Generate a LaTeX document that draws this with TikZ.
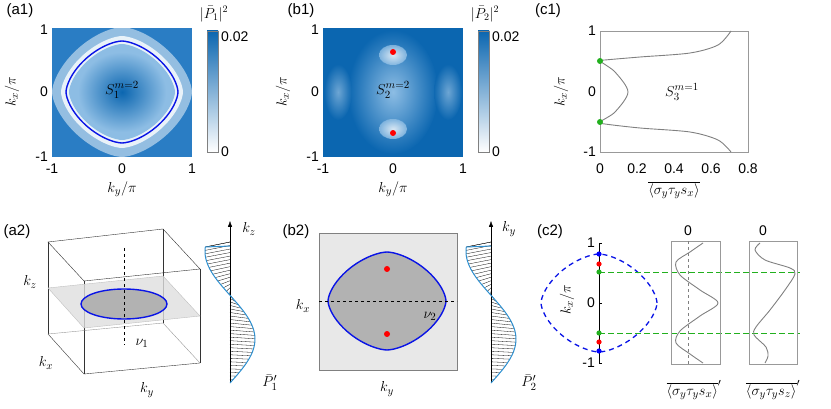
\documentclass[tikz,border=0pt]{standalone}
\usepackage{fontspec}
\usepackage{amsmath}
\newfontfamily\hfont{Liberation Sans}
\usetikzlibrary{arrows.meta}
\definecolor{mblue}{HTML}{2A7DC4}
\definecolor{lblue}{HTML}{8DBDE4}
\definecolor{dblue}{HTML}{0B66B0}
\definecolor{cblue}{RGB}{10,20,230}
\definecolor{pblue}{HTML}{2C8FD0}
\definecolor{mgreen}{HTML}{22B01E}
\tikzset{
  every node/.style={font=\fontsize{15}{15}\selectfont, inner sep=1pt},
  tick/.style={font=\hfont\fontsize{14}{14}\selectfont},
  plab/.style={font=\hfont\fontsize{15}{15}\selectfont},
  cblab/.style={font=\fontsize{14}{14}\selectfont, inner sep=0pt},
  frame/.style={draw=gray!80, line width=0.6pt},
  curve/.style={draw=gray, line width=0.9pt},
  fermi/.style={draw=cblue, line width=1.4pt},
  reddot/.style={fill=red},
  declare function={pf(\t)=25*sin(279.07*\t-99.07);},
}
\newcommand{\rdia}[5][]{% rounded diamond
  \draw[#1] plot[smooth cycle, domain=0:355, samples=72]
    ({#2 + #4*sign(cos(\x))*pow(abs(cos(\x)),1.25)},
     {#3 + #5*sign(sin(\x))*pow(abs(sin(\x)),1.25)});}
\newcommand{\cbar}[2]{%
  \shade[top color=dblue, bottom color=white] (#1,31) rectangle (#2,152);
  \draw[gray] (#1,31) rectangle (#2,152);}
\newcommand{\pprof}[1]{% hatched profile on axis x=#1
  \foreach \t in {0,0.025,...,1.001}
    \draw[line width=0.3pt] (#1,242+141*\t) -- ({#1+pf(\t)},{247+136*\t});
  \draw[line width=0.3pt] (#1,242) -- ({#1+pf(0)},247);
  \draw[pblue, line width=1pt] (#1,246) -- ({#1+pf(0)},247)
    plot[smooth, domain=0:1, samples=50] ({#1+pf(\x)},{247+136*\x});}
\begin{document}
\begin{tikzpicture}[x=1pt, y=-1pt]
  \useasboundingbox (0,0) rectangle (831,409);

  % (a1)
  \node[plab] (la1) at (20,11) {(a1)};
  \fill[mblue] (52,28) rectangle (192,157);
  \rdia[fill=white, draw=none, opacity=0.5]{122}{92}{70}{65}
  \rdia[fill=white, draw=none, opacity=0.8]{122}{92}{61}{56}
  \rdia[fill=lblue, draw=none]{122}{92}{53}{48}
  \shade[inner color=dblue, outer color=lblue, draw=none] (122,92) ellipse (44 and 40);
  \rdia[fermi]{122}{92}{56}{51}
  \node (s1) at (122,90) {$S_1^{m=2}$};
  \cbar{207}{218}
  \node[cblab] at (214,14) {$|\bar{P}_1|^2$};
  \node[tick, anchor=west] at (220,37) {0.02};
  \node[tick, anchor=west] at (220,152) {0};
  \foreach \v/\y in {1/30,0/92,-1/157} \node[tick, anchor=east] at (49,\y) {\v};
  \foreach \v/\x in {-1/52,0/122,1/192} \node[tick] at (\x,169) {\v};
  \node[rotate=90] at (12,92) {$k_x/\pi$};
  \node at (122,189) {$k_y/\pi$};

  % (b1)
  \node[plab] (lb1) at (301,11) {(b1)};
  \fill[dblue] (323,28) rectangle (463,157);
  \begin{scope}
    \clip (323,28) rectangle (463,157);
    \shade[inner color=lblue, outer color=dblue] (393,92) ellipse (45 and 62);
    \shade[inner color=lblue!70, outer color=dblue, opacity=0.6] (338,92) ellipse (14 and 28);
    \shade[inner color=lblue!70, outer color=dblue, opacity=0.6] (448,92) ellipse (14 and 28);
    \shade[inner color=white, outer color=lblue, opacity=0.8] (393,55) ellipse (14 and 10);
    \shade[inner color=white, outer color=lblue, opacity=0.8] (393,129) ellipse (14 and 10);
  \end{scope}
  \fill[reddot] (393,52) circle (3);
  \fill[reddot] (393,133) circle (3);
  \node (s2) at (393,90) {$S_2^{m=2}$};
  \cbar{478}{489}
  \node[cblab] at (485,14) {$|\bar{P}_2|^2$};
  \node[tick, anchor=west] at (491,37) {0.02};
  \node[tick, anchor=west] at (491,152) {0};
  \foreach \v/\y in {1/30,0/92,-1/157} \node[tick, anchor=east] at (320,\y) {\v};
  \foreach \v/\x in {-1/323,0/393,1/463} \node[tick] at (\x,169) {\v};
  \node[rotate=90] at (283,92) {$k_x/\pi$};
  \node at (393,189) {$k_y/\pi$};

  % (c1)
  \node[plab] (lc1) at (548,11) {(c1)};
  \draw[frame] (600,31) rectangle (748,152);
  \draw[curve] plot[smooth] coordinates {(731,31) (718,45) (690,53) (640,57) (605,60)
    (600,61) (615,72) (628,92) (615,112) (600,122) (605,124) (640,128) (690,132)
    (718,140) (731,152)};
  \fill[mgreen] (600,61) circle (3);
  \fill[mgreen] (600,122) circle (3);
  \node (s3) at (682,92) {$S_3^{m=1}$};
  \foreach \v/\y in {1/31,0/92,-1/152} \node[tick, anchor=east] at (597,\y) {\v};
  \foreach \v [count=\i from 0] in {0,0.2,0.4,0.6,0.8} \node[tick] at (600+\i*37,169) {\v};
  \node[rotate=90] at (561,92) {$k_x/\pi$};
  \node at (674,190) {$\overline{\langle\sigma_y\tau_y s_x\rangle}$};

  % (a2)
  \node[plab] (la2) at (17,232) {(a2)};
  \draw[black!80] (48,242) -- (163,229) -- (200,269) -- (84,281) -- cycle;
  \draw[black!80] (48,242) -- (48,334) (163,229) -- (163,323)
    (200,269) -- (200,363) (84,281) -- (84,374);
  \draw[black!80] (48,334) -- (84,374) -- (200,363);
  \draw[black!40] (48,334) -- (163,323) -- (200,363);
  \fill[gray!25, opacity=0.8] (48,288) -- (163,276) -- (200,316) -- (84,328) -- cycle;
  \draw[gray!50] (48,288) -- (163,276) -- (200,316) -- (84,328) -- cycle;
  \fill[gray!60] (124,304) ellipse (43 and 15);
  \draw[fermi] (124,304) ellipse (43 and 15);
  \draw[dashed, line width=1pt] (124,248) -- (124,345);
  \node (nu1) at (142,343) {$\nu_1$};
  \node (kz) at (30,282) {$k_z$};
  \node (kx) at (46,363) {$k_x$};
  \node (ky) at (147,390) {$k_y$};
  % P1'
  \draw[-{Latex[length=6pt]}] (230,383) -- (230,221);
  \node (kza) at (249,229) {$k_z$};
  \pprof{230}
  \node (p1) at (270,383) {$\bar{P}_1'$};

  % (b2)
  \node[plab] (lb2) at (296,232) {(b2)};
  \fill[gray!18] (319,233) rectangle (457,370);
  \draw[gray] (319,233) rectangle (457,370);
  \rdia[fill=gray!60, draw=none]{387}{301}{59}{49}
  \rdia[fermi]{387}{301}{59}{49}
  \draw[dashed, line width=1pt] (319,301) -- (457,301);
  \fill[reddot] (387,269) circle (3);
  \fill[reddot] (387,334) circle (3);
  \node (nu2) at (430,316) {$\nu_2$};
  \node (kxb) at (303,306) {$k_x$};
  \node (kyb) at (387,389) {$k_y$};
  % P2'
  \draw[-{Latex[length=6pt]}] (491,383) -- (491,221);
  \node (kya) at (509,229) {$k_y$};
  \pprof{491}
  \node (p2) at (529,383) {$\bar{P}_2'$};

  % (c2)
  \node[plab] (lc2) at (550,232) {(c2)};
  \draw[cblue, line width=1.3pt, dash pattern=on 5pt off 4pt]
    plot[smooth cycle, domain=0:355, samples=72]
    ({599+58*sign(cos(\x))*pow(abs(cos(\x)),1.25)},
     {303+49*sign(sin(\x))*pow(abs(sin(\x)),1.25)});
  \draw[line width=0.8pt] (599,243) -- (599,363);
  \foreach \v/\y in {1/243,0/303,-1/363} {
    \draw (599,\y) -- (602,\y);
    \node[tick, anchor=east] at (596,\y) {\v};}
  \node[rotate=90, fill=white, inner sep=0pt] at (567,300) {$k_x/\pi$};
  \draw[mgreen, dash pattern=on 6pt off 3pt] (599,272) -- (800,272);
  \draw[mgreen, dash pattern=on 6pt off 3pt] (599,333) -- (800,333);
  \foreach \y in {254,351} \fill[blue] (599,\y) circle (2.6);
  \foreach \y in {264,342} \fill[red] (599,\y) circle (2.6);
  \foreach \y in {272,333} \fill[mgreen] (599,\y) circle (2.6);
  \draw[frame] (671,241) rectangle (720,364);
  \draw[gray, dashed, line width=0.4pt] (688,241) -- (688,364);
  \node[tick] at (688,231) {0};
  \draw[curve] plot[smooth] coordinates {(703,243) (690,252) (676,262) (680,275)
    (700,290) (718,303) (700,316) (680,331) (676,343) (690,354) (703,363)};
  \draw[frame] (749,241) rectangle (797,364);
  \node[tick] at (763,231) {0};
  \draw[curve] plot[smooth] coordinates {(760,243) (755,250) (765,260) (790,268) (795,274)
    (785,290) (770,310) (756,327) (754,335) (766,347) (768,356) (765,363)};
  \node (ox) at (694,390) {$\overline{\langle\sigma_y\tau_y s_x\rangle}'$};
  \node (oz) at (773,390) {$\overline{\langle\sigma_y\tau_y s_z\rangle}'$};
\end{tikzpicture}
\end{document}
